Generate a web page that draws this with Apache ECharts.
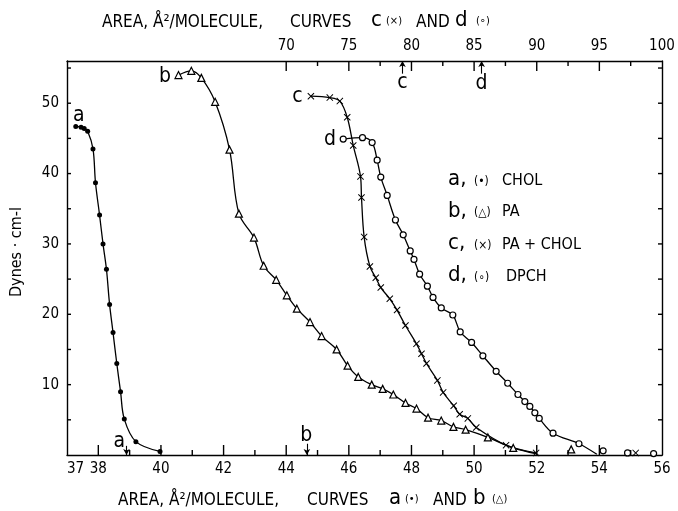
<!DOCTYPE html>
<html><head><meta charset="utf-8">
<script src="https://cdn.jsdelivr.net/npm/echarts@6/dist/echarts.min.js"></script>
<style>html,body{margin:0;padding:0;background:#fff}#c{width:678px;height:511px}</style>
</head><body><div id="c"></div>
<script>
const FONT = "'DejaVu Sans Condensed','DejaVu Sans',sans-serif";
const INK = '#000';

// ---- data (bottom axis: curves a, b; top axis: curves c, d) ----
const curveA = [[37.28,46.7],[37.45,46.6],[37.55,46.4],[37.66,46.0],[37.83,43.5],[37.91,38.7],[38.04,34.1],[38.15,30.0],[38.26,26.4],[38.36,21.4],[38.47,17.4],[38.59,13.0],[38.71,9.0],[38.83,5.1],[39.2,1.9],[39.97,0.5]];
const curveB = [[40.56,54.0],[40.97,54.6],[41.29,53.6],[41.73,50.2],[42.19,43.4],[42.49,34.3],[42.97,30.9],[43.28,26.9],[43.68,24.9],[44.02,22.7],[44.34,20.8],[44.76,18.9],[45.13,16.9],[45.61,15.0],[45.96,12.7],[46.30,11.1],[46.73,10.0],[47.08,9.4],[47.42,8.6],[47.81,7.4],[48.16,6.6],[48.53,5.3],[48.95,4.9],[49.34,4.0],[49.73,3.6],[50.44,2.5],[51.25,1.0]];
const curveBEnd = [[52.0,0.15]];
const curveBExtra = [[53.1,0.8]];
const curveC = [[71.97,51.0],[73.48,50.8],[74.28,50.3],[74.87,48.0],[75.35,44.0],[75.93,39.6],[76.01,36.6],[76.22,31.0],[76.68,26.8],[77.15,25.2],[77.55,23.8],[78.27,22.2],[78.85,20.6],[79.52,18.4],[80.4,15.8],[80.8,14.4],[81.2,13.0],[82.07,10.6],[82.53,8.9],[83.37,7.0],[83.85,5.8],[84.5,5.2],[85.17,3.9],[87.55,1.4],[89.95,0.3]];
const curveCExtra = [[97.9,0.3]];
const curveD = [[74.55,44.9],[76.09,45.1],[76.86,44.4],[77.26,41.9],[77.55,39.5],[78.06,36.9],[78.72,33.4],[79.34,31.3],[79.9,29.0],[80.2,27.8],[80.65,25.7],[81.27,24.0],[81.72,22.4],[82.38,20.9],[83.3,19.9],[83.89,17.5],[84.8,16.0],[85.7,14.1],[86.76,11.9],[87.68,10.2],[88.5,8.6],[89.05,7.6],[89.45,6.9],[89.85,6.0],[90.2,5.2],[91.3,3.1],[93.37,1.6]];
const curveDEnd = [[94.8,0.1]];
const curveDExtra = [[95.3,0.6],[97.25,0.3],[99.33,0.2]];

// ---- axis ticks / labels ----
const bottomTickLabels = [37,38,40,42,44,46,48,50,52,54,56];
const bottomMajorTicks = [38,40,42,44,46,48,50,52,54];
const bottomMinorTicks = [39,41,43,45,47,49,51,53,55];
const topTickLabels = [70,75,80,85,90,95,100];
const topMajorTicks = [70,75,80,85,90,95];
const topMinorTicks = [72.5,77.5,82.5,87.5,92.5,97.5];
const yTickLabels = [10,20,30,40,50];
const yTicks = [5,10,15,20,25,30,35,40,45,50,55];

// ---- in-plot annotations ----
const bottomNotes = [[37.38,48.2,'a'],[40.13,53.8,'b'],[38.67,1.95,'a'],[44.64,2.8,'b']];
const topNotes = [[70.9,51.0,'c'],[73.5,44.9,'d'],[79.28,53.0,'c'],[85.6,52.8,'d']];
const bottomArrows = [[38.9,1.3],[44.66,1.6]];
const topArrows = [[79.28,54.2],[85.6,54.2]];

const X_MIN = 37, X_MAX = 56, TOP_MIN = 52.5, TOP_MAX = 100, Y_MIN = 0, Y_MAX = 56;

const crossPath = 'path://M0,1L1,0L5,4L9,0L10,1L6,5L10,9L9,10L5,6L1,10L0,9L4,5Z';
const lineStyle = {color: INK, width: 1.3};

function xAxisBase(pos, min, max) {
  return {type: 'value', position: pos, min: min, max: max, splitLine: {show: false},
    axisTick: {show: false},
    axisLine: {show: true, onZero: false, lineStyle: {color: INK, width: 1.4}}};
}
function curve(data, xi) {
  return {type: 'line', xAxisIndex: xi, yAxisIndex: 0, data: data, smooth: 0.35,
    showSymbol: false, lineStyle: lineStyle, silent: true, z: 2, animation: false};
}
function markers(data, xi, sym, size, filled) {
  return {type: 'scatter', xAxisIndex: xi, yAxisIndex: 0, data: data, symbol: sym, symbolSize: size,
    itemStyle: filled ? {color: INK, opacity: 1} : {color: '#fff', borderColor: INK, borderWidth: 1.2, opacity: 1},
    z: 3, animation: false, silent: true};
}
function notes(arr, xi, arrows, dir) {
  return {type: 'scatter', xAxisIndex: xi, yAxisIndex: 0, symbol: 'circle', symbolSize: 0.01,
    itemStyle: {color: INK, opacity: 1}, silent: true, animation: false, z: 4,
    data: arr.map(n => ({value: [n[0], n[1]], name: n[2]})),
    label: {show: true, position: 'inside', formatter: p => p.name, fontFamily: FONT, fontSize: 21, color: INK},
    markLine: {silent: true, animation: false, symbol: ['none', 'arrow'], symbolSize: [5, 6], label: {show: false},
      lineStyle: {color: INK, width: 1.1, type: 'solid', opacity: 1},
      data: arrows.map(a => [{coord: [a[0], a[1]]}, {coord: [a[0], dir]}])}
  };
}

function txt(left, top, text, size) {
  return {type: 'text', left: left, top: top, silent: true,
    style: {text: text, fontFamily: FONT, fontSize: size, fill: INK}};
}

const baseGraphic = [
  // top axis title
  txt(102, 14, 'AREA, Å²/MOLECULE,', 17),
  txt(290, 14, 'CURVES', 17),
  txt(371, 9, 'c', 22),
  txt(386, 16, '(×)', 11),
  txt(416, 14, 'AND', 17),
  txt(455, 9, 'd', 22),
  txt(476, 16, '(∘)', 11),
  // bottom axis title
  txt(118, 492, 'AREA, Å²/MOLECULE,', 17),
  txt(307, 492, 'CURVES', 17),
  txt(389, 487, 'a', 22),
  txt(405, 494, '(•)', 11),
  txt(433, 492, 'AND', 17),
  txt(473, 487, 'b', 22),
  txt(492, 494, '(△)', 11),
  // y axis name
  {type: 'text', x: 17, y: 252, rotation: Math.PI / 2, silent: true, style: {
    text: 'Dynes · cm-l', fontFamily: FONT, fontSize: 16, fill: INK, align: 'center', verticalAlign: 'middle'}},
  // legend
  txt(448, 168, 'a,', 22), txt(474, 176, '(•)', 12), txt(502, 173, 'CHOL', 16),
  txt(448, 200, 'b,', 22), txt(474, 207, '(△)', 12), txt(502, 204, 'PA', 16),
  txt(448, 232, 'c,', 22), txt(474, 240, '(×)', 12), txt(502, 237, 'PA + CHOL', 16),
  txt(448, 264, 'd,', 22), txt(474, 272, '(∘)', 12), txt(506, 269, 'DPCH', 16)
];

const chart = echarts.init(document.getElementById('c'), null, {renderer: 'canvas'});
chart.setOption({
  backgroundColor: '#fff',
  animation: false,
  grid: {left: 67, right: 16, top: 61, bottom: 56},
  xAxis: [
    Object.assign(xAxisBase('bottom', X_MIN, X_MAX), {
      axisLabel: {customValues: bottomTickLabels, alignMinLabel: 'left', margin: 7, fontFamily: FONT, fontSize: 15, color: INK}}),
    Object.assign(xAxisBase('top', TOP_MIN, TOP_MAX), {
      axisLabel: {customValues: topTickLabels, margin: 7, fontFamily: FONT, fontSize: 15, color: INK}})
  ],
  yAxis: [
    {type: 'value', position: 'left', min: Y_MIN, max: Y_MAX, splitLine: {show: false}, axisTick: {show: false},
      axisLine: {show: true, onZero: false, lineStyle: {color: INK, width: 1.4}},
      axisLabel: {customValues: yTickLabels, margin: 8, fontFamily: FONT, fontSize: 15, color: INK}},
    {type: 'value', position: 'right', min: Y_MIN, max: Y_MAX, splitLine: {show: false}, axisTick: {show: false},
      axisLine: {show: true, onZero: false, lineStyle: {color: INK, width: 1.4}},
      axisLabel: {show: false}}
  ],
  series: [
    curve(curveA, 0),
    markers(curveA, 0, 'circle', 5, true),
    curve(curveB.concat(curveBEnd), 0),
    markers(curveB.concat(curveBExtra), 0, 'triangle', 7, false),
    curve(curveC, 1),
    markers(curveC.concat(curveCExtra), 1, crossPath, 7, true),
    curve(curveD.concat(curveDEnd), 1),
    markers(curveD.concat(curveDExtra), 1, 'circle', 6, false),
    notes(bottomNotes, 0, bottomArrows, Y_MIN),
    notes(topNotes, 1, topArrows, Y_MAX)
  ],
  graphic: baseGraphic
});

// inward tick marks, positioned through the axes' own scales
const lower = {xAxisIndex: 0, yAxisIndex: 0};
const upper = {xAxisIndex: 1, yAxisIndex: 0};
function tickBar(finder, value, dx, dy) {
  const p = chart.convertToPixel(finder, value);
  const w = dx === 0 ? 1.4 : Math.abs(dx);
  const h = dy === 0 ? 1.4 : Math.abs(dy);
  const x = dx === 0 ? p[0] - 0.7 : (dx > 0 ? p[0] : p[0] + dx);
  const y = dy === 0 ? p[1] - 0.7 : (dy > 0 ? p[1] : p[1] + dy);
  return {type: 'rect', silent: true, z: 50, shape: {x: x, y: y, width: w, height: h},
    style: {fill: INK}};
}
const tickGraphic = []
  .concat(bottomMajorTicks.map(v => tickBar(lower, [v, Y_MIN], 0, -10)))
  .concat(bottomMinorTicks.map(v => tickBar(lower, [v, Y_MIN], 0, -5)))
  .concat(topMajorTicks.map(v => tickBar(upper, [v, Y_MAX], 0, 10)))
  .concat(topMinorTicks.map(v => tickBar(upper, [v, Y_MAX], 0, 5)))
  .concat(yTicks.map(v => tickBar(lower, [X_MIN, v], 4, 0)))
  .concat(yTicks.map(v => tickBar(lower, [X_MAX, v], -4, 0)));
chart.setOption({graphic: baseGraphic.concat(tickGraphic)});
</script></body></html>
